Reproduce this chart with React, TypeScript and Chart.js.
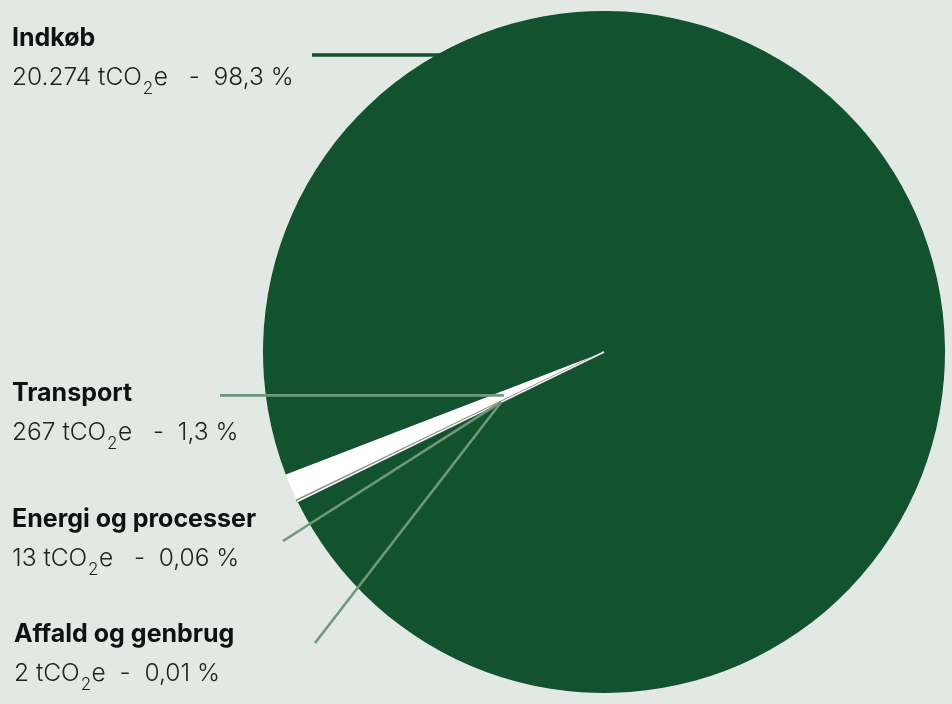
import React, { useEffect, useRef } from "react";
import { Chart, registerables } from "chart.js";

Chart.register(...registerables);

// Data (clockwise order as drawn in the reference)
const categories = ["Affald og genbrug", "Energi og processer", "Transport", "Indkøb"];
const emissions = [2, 13, 267, 20274];
const emissionLabels = ["2", "13", "267", "20.274"];
const percentLabels = ["0,01 %", "0,06 %", "1,3 %", "98,3 %"];
const separators = ["  -  ", "   -  ", "   -  ", "   -  "];

const BG = "#e2e8e3";
const GREEN = "#12522f";
const LEADER = "#6f977e";
const GRAY = "#8e8e8e";
const sliceColors = ["#ffffff", GRAY, "#ffffff", GREEN];

// label layout: [textX, titleBaseline, valueBaseline, leaderStartX, leaderStartY]
const labelLayout: Record<string, number[]> = {
  "Indkøb": [12, 46, 85, 312, 55],
  "Transport": [12, 401, 440, 220, 395],
  "Energi og processer": [12, 527, 566, 283, 541],
  "Affald og genbrug": [14, 642, 681, 315, 643],
};

// Redraw the tiny slices on top so their borders stay visible
const smallSlicesOnTop = {
  id: "smallSlicesOnTop",
  afterDatasetsDraw(chart: any) {
    const ctx = chart.ctx as CanvasRenderingContext2D;
    const meta = chart.getDatasetMeta(0);
    ctx.save();
    meta.data[1].draw(ctx);
    meta.data[0].draw(ctx);
    ctx.restore();
  },
};

const labelPlugin = {
  id: "sideLabels",
  afterDraw(chart: any) {
    const ctx = chart.ctx as CanvasRenderingContext2D;
    const meta = chart.getDatasetMeta(0);
    ctx.save();
    categories.forEach((cat, i) => {
      const lay = labelLayout[cat];
      const arc = meta.data[i] as any;
      const { x: cx, y: cy, outerRadius, startAngle, endAngle } = arc.getProps(
        ["x", "y", "outerRadius", "startAngle", "endAngle"],
        true
      );
      const mid = (startAngle + endAngle) / 2;
      // leader lines
      ctx.lineCap = "butt";
      if (cat === "Indkøb") {
        const y = lay[4];
        const dy = y - cy;
        const edgeX = cx - Math.sqrt(Math.max(0, outerRadius * outerRadius - dy * dy));
        ctx.strokeStyle = GREEN;
        ctx.lineWidth = 3.5;
        ctx.beginPath();
        ctx.moveTo(lay[3], y);
        ctx.lineTo(edgeX + 20, y);
        ctx.stroke();
      } else {
        const r = outerRadius * (cat === "Transport" ? 0.32 : 0.335);
        const ex = cx + Math.cos(mid) * r;
        const ey = cy + Math.sin(mid) * r;
        ctx.strokeStyle = LEADER;
        ctx.lineWidth = 2.6;
        ctx.beginPath();
        if (cat === "Transport") {
          ctx.moveTo(lay[3], ey);
          ctx.lineTo(ex, ey);
        } else {
          ctx.moveTo(lay[3], lay[4]);
          ctx.lineTo(ex, ey);
        }
        ctx.stroke();
      }
      // title
      ctx.textBaseline = "alphabetic";
      ctx.textAlign = "left";
      ctx.fillStyle = "#111111";
      ctx.font = "700 25px Inter, 'Noto Sans', sans-serif";
      ctx.fillText(cat, lay[0], lay[1]);
      // value line
      ctx.fillStyle = "#222222";
      const mainFont = "300 24.5px Inter, 'Noto Sans', sans-serif";
      const subFont = "300 17px Inter, 'Noto Sans', sans-serif";
      let x = lay[0];
      const by = lay[2];
      ctx.font = mainFont;
      const p1 = emissionLabels[i] + " tCO";
      ctx.fillText(p1, x, by);
      x += ctx.measureText(p1).width + 1;
      ctx.font = subFont;
      ctx.fillText("2", x, by + 9);
      x += ctx.measureText("2").width + 0.5;
      ctx.font = mainFont;
      const p2 = "e" + separators[i] + percentLabels[i];
      ctx.fillText(p2, x, by);
    });
    ctx.restore();
  },
};

export default function App() {
  const ref = useRef<HTMLCanvasElement | null>(null);
  useEffect(() => {
    if (!ref.current) return;
    const chart = new Chart(ref.current, {
      type: "pie",
      data: {
        labels: categories,
        datasets: [
          {
            data: emissions,
            backgroundColor: sliceColors,
            borderColor: ["#ffffff", GRAY, "#ffffff", GREEN],
            borderWidth: [1.2, 2, 0, 0],
          },
        ],
      },
      options: {
        responsive: false,
        animation: false,
        rotation: 244,
        layout: { padding: { left: 262, right: 6, top: 10, bottom: 10 } },
        plugins: {
          legend: { display: false },
          tooltip: { enabled: false },
        },
      },
      plugins: [smallSlicesOnTop, labelPlugin],
    });
    return () => chart.destroy();
  }, []);
  return (
    <div
      style={{
        position: "absolute",
        left: 0,
        top: 0,
        width: 952,
        height: 704,
        background: BG,
      }}
    >
      <canvas ref={ref} width={952} height={704} style={{ display: "block" }} />
    </div>
  );
}
